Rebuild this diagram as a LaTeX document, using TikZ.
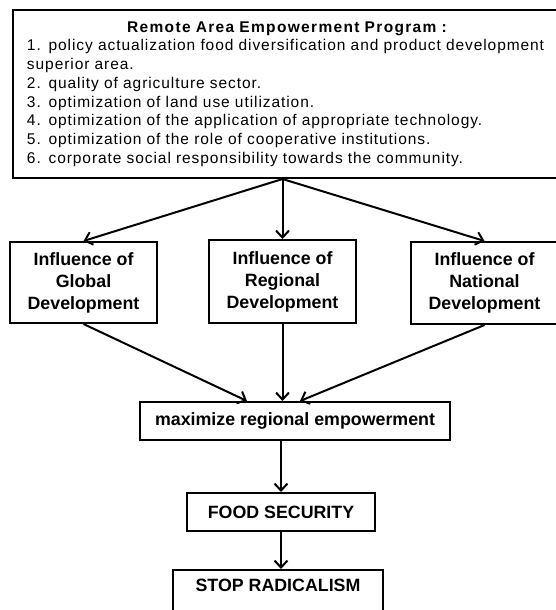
\documentclass[tikz,border=0pt]{standalone}
\usepackage{fontspec}
\setmainfont{Liberation Sans}
\newfontfamily\listfont{Liberation Sans}[LetterSpace=6]
\newfontfamily\headfont{Liberation Sans}[LetterSpace=8.6]
\usetikzlibrary{arrows.meta,calc}
\begin{document}
\begin{tikzpicture}[x=1pt,y=-1pt,
  box/.style={draw,line width=2pt,inner sep=0pt,align=center,
    font=\bfseries\fontsize{17.8}{22}\selectfont},
  arr/.style={line width=2pt,-{Straight Barb[length=7pt,width=13pt,line width=2pt]}}]
\useasboundingbox (0,0) rectangle (555,610);
\node[draw,line width=2pt,anchor=north west,text width=530pt,inner xsep=14pt,
  inner ysep=0pt,minimum height=168pt,align=left,
  font=\listfont\fontsize{15.5}{18.7}\selectfont] (top) at (12,9)
  {\makebox[520pt]{\headfont\bfseries Remote Area Empowerment Program :}\\
   1. policy actualization food diversification and product development\\
   superior area.\\
   2. quality of agriculture sector.\\
   3. optimization of land use utilization.\\
   4. optimization of the application of appropriate technology.\\
   5. optimization of the role of cooperative institutions.\\
   6. corporate social responsibility towards the community.};
\node[box,minimum width=147pt,minimum height=81pt] (glob) at (83.5,282.5)
  {Influence of\\Global\\Development};
\node[box,minimum width=147pt,minimum height=83pt] (reg) at (282.5,281.5)
  {Influence of\\Regional\\Development};
\node[box,minimum width=147pt,minimum height=82pt] (nat) at (484.5,283)
  {Influence of\\National\\Development};
\node[box,minimum width=310pt,minimum height=38pt] (max) at (295,421)
  {maximize regional empowerment};
\node[box,minimum width=188pt,minimum height=38pt] (food) at (281,512)
  {FOOD SECURITY};
\node[box,minimum width=210pt,inner ysep=5pt,text height=16pt,text depth=17pt,
  anchor=north] (stop) at (278,569) {STOP RADICALISM};
\draw[arr] (top.south -| reg.north) -- (glob.north);
\draw[arr] (top.south -| reg.north) -- (reg.north);
\draw[arr] (top.south -| reg.north) -- (nat.north);
\draw[arr] (glob.south) -- ($(max.north)+(-48,0)$);
\draw[arr] (reg.south) -- (reg.south |- max.north);
\draw[arr] (nat.south) -- ($(max.north)+(5,0)$);
\draw[arr] (max.south -| food.north) -- (food.north);
\draw[arr] (food.south) -- (food.south |- stop.north);
\end{tikzpicture}
\end{document}
